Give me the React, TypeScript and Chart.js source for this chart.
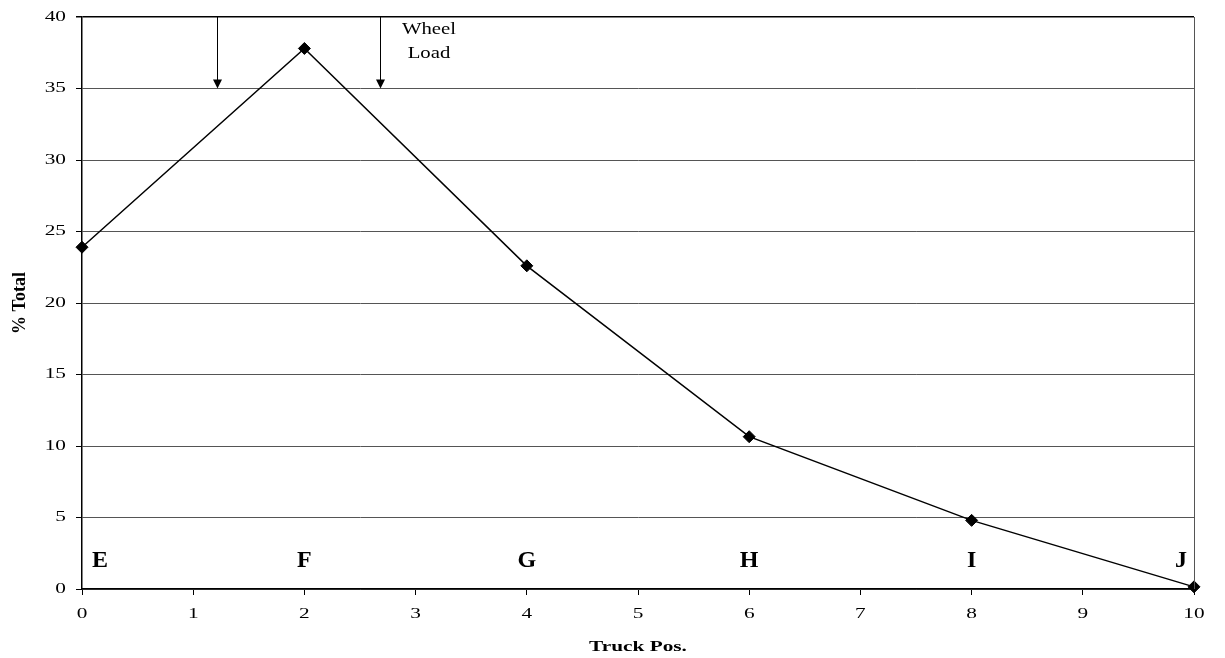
import React, { useEffect, useRef } from "react";
import { Chart, registerables } from "chart.js";

Chart.register(...registerables);

const truckPos = [0, 2, 4, 6, 8, 10];
const pctTotal = [23.9, 37.8, 22.6, 10.65, 4.8, 0.15];
const gaugeLabels = ["E", "F", "G", "H", "I", "J"];
const gaugeLabelY = 2;
const arrowX = [1.21, 2.68];
const arrowTop = 40;
const arrowBottom = 35;
const wheelLabelLines = ["Wheel", "Load"];
const wheelLabelX = 3.12;
const wheelLabelY = [39.13, 37.45];
const xTitle = "Truck Pos.";
const yTitle = "% Total";

const SERIF = "'Liberation Serif', 'Times New Roman', serif";

function stretchedText(ctx: any, text: string, x: number, y: number, align: string, sx: number) {
  ctx.save();
  ctx.translate(x, y);
  ctx.scale(sx, 1);
  ctx.textAlign = align;
  ctx.fillText(text, 0, 0);
  ctx.restore();
}

const annotations = {
  id: "annotations",
  afterDraw(chart: any) {
    const { ctx, scales, chartArea } = chart;
    const xs = scales.x;
    const ys = scales.y;
    ctx.save();
    // right border
    ctx.strokeStyle = "#555";
    ctx.lineWidth = 1;
    ctx.beginPath();
    ctx.moveTo(chartArea.right + 0.5, chartArea.top);
    ctx.lineTo(chartArea.right + 0.5, chartArea.bottom);
    ctx.stroke();
    // arrows
    ctx.strokeStyle = "#000";
    ctx.fillStyle = "#000";
    arrowX.forEach((v) => {
      const px = Math.round(xs.getPixelForValue(v)) + 0.5;
      const yT = ys.getPixelForValue(arrowTop);
      const yB = ys.getPixelForValue(arrowBottom);
      ctx.beginPath();
      ctx.moveTo(px, yT);
      ctx.lineTo(px, yB - 8);
      ctx.stroke();
      ctx.beginPath();
      ctx.moveTo(px - 4.5, yB - 9);
      ctx.lineTo(px + 4.5, yB - 9);
      ctx.lineTo(px, yB);
      ctx.closePath();
      ctx.fill();
    });
    // wheel load text
    ctx.font = `17px ${SERIF}`;
    ctx.textBaseline = "middle";
    wheelLabelLines.forEach((t, i) => {
      stretchedText(ctx, t, xs.getPixelForValue(wheelLabelX), ys.getPixelForValue(wheelLabelY[i]), "center", 1.22);
    });
    // tick labels
    ctx.font = `15px ${SERIF}`;
    ys.ticks.forEach((tk: any) => {
      stretchedText(ctx, String(tk.value), 66, ys.getPixelForValue(tk.value), "right", 1.42);
    });
    xs.ticks.forEach((tk: any) => {
      stretchedText(ctx, String(tk.value), xs.getPixelForValue(tk.value), chartArea.bottom + 25, "center", 1.42);
    });
    // axis titles
    ctx.font = `bold 15px ${SERIF}`;
    stretchedText(ctx, xTitle, (chartArea.left + chartArea.right) / 2, chartArea.bottom + 58, "center", 1.42);
    ctx.save();
    ctx.translate(19, (chartArea.top + chartArea.bottom) / 2);
    ctx.rotate(-Math.PI / 2);
    ctx.font = `bold 18px ${SERIF}`;
    ctx.textAlign = "center";
    ctx.fillText(yTitle, 0, 1);
    ctx.restore();
    // gauge letters
    ctx.font = `bold 24px ${SERIF}`;
    gaugeLabels.forEach((t, i) => {
      const px = xs.getPixelForValue(truckPos[i]);
      const py = ys.getPixelForValue(gaugeLabelY);
      if (i === 0) {
        ctx.textAlign = "left";
        ctx.fillText(t, px + 10, py);
      } else if (i === gaugeLabels.length - 1) {
        ctx.textAlign = "right";
        ctx.fillText(t, px - 7, py);
      } else {
        ctx.textAlign = "center";
        ctx.fillText(t, px, py);
      }
    });
    ctx.restore();
  },
};

export default function App() {
  const ref = useRef<HTMLCanvasElement | null>(null);
  useEffect(() => {
    if (!ref.current) return;
    const chart = new Chart(ref.current, {
      type: "line",
      data: {
        datasets: [
          {
            data: truckPos.map((x, i) => ({ x, y: pctTotal[i] })),
            borderColor: "#000",
            backgroundColor: "#000",
            borderWidth: 1.5,
            pointStyle: "rectRot",
            pointRadius: 6,
            pointBorderWidth: 1,
            tension: 0,
            clip: false,
          },
        ],
      },
      options: {
        animation: false,
        responsive: true,
        maintainAspectRatio: false,
        layout: { padding: { left: 0, top: 17, right: 31, bottom: 0 } },
        plugins: { legend: { display: false }, tooltip: { enabled: false } },
        scales: {
          x: {
            type: "linear",
            min: 0,
            max: 10,
            afterFit: (s: any) => {
              s.height = 69;
            },
            ticks: { stepSize: 1, display: false },
            grid: {
              drawOnChartArea: false,
              drawTicks: true,
              tickLength: 6,
              tickColor: "#000",
              color: "#000",
            },
            border: { color: "#000", width: 1.5 },
          },
          y: {
            min: 0,
            max: 40,
            afterFit: (s: any) => {
              s.width = 82;
            },
            ticks: { stepSize: 5, display: false },
            grid: {
              drawTicks: true,
              tickLength: 6,
              tickColor: "#000",
              color: (c: any) => (c.tick && c.tick.value === 40 ? "#000" : "#555"),
              lineWidth: (c: any) => (c.tick && c.tick.value === 40 ? 1.5 : 1),
            },
            border: { color: "#000", width: 1.5 },
          },
        },
      },
      plugins: [annotations],
    } as any);
    return () => chart.destroy();
  }, []);
  return (
    <div
      style={{
        position: "fixed",
        left: 0,
        top: 0,
        width: 1225,
        height: 658,
        background: "#fff",
      }}
    >
      <canvas ref={ref} />
    </div>
  );
}
